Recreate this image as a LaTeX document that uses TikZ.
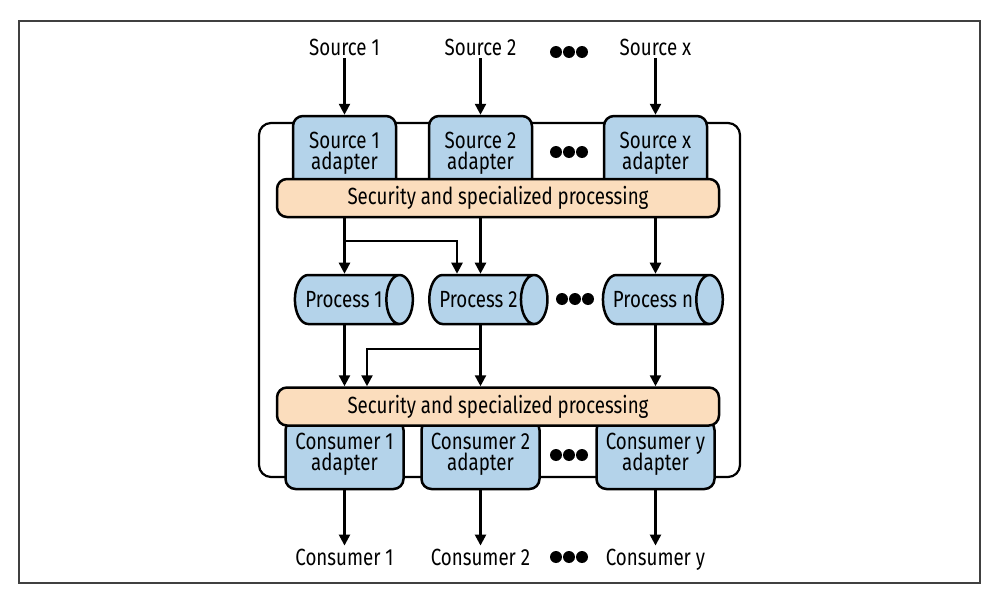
\documentclass[tikz,border=0pt]{standalone}
\usepackage{fontspec}
\setmainfont{Fira Sans}[FakeStretch=0.8]
\usetikzlibrary{shapes.geometric,arrows.meta}
\definecolor{adblue}{HTML}{B4D3EA}
\definecolor{barorange}{HTML}{FBDDBD}
\newcommand\lblfont{\fontsize{11.7}{10.6}\selectfont\lineskiplimit=-10pt\relax}
\newcommand\threedots[2]{\fill (#1-13,#2) circle[radius=6] (#1,#2) circle[radius=6] (#1+13,#2) circle[radius=6];}
\begin{document}
\begin{tikzpicture}[x=0.5pt,y=-0.5pt,
  line width=1.25pt,
  arr/.style={-{Triangle[width=5.5pt,length=5.5pt]}, line width=1.2pt},
  lbl/.style={font=\lblfont, inner sep=1pt, text depth=0pt},
  adapter/.style={draw, fill=adblue, rounded corners=5pt, minimum width=51.5pt, minimum height=37pt, align=center, font=\lblfont, inner sep=0pt},
  cadapter/.style={adapter, minimum width=59pt, minimum height=34.5pt},
  bar/.style={draw, fill=barorange, rounded corners=5pt, minimum width=221pt, minimum height=19pt, font=\lblfont, inner sep=0pt},
  proc/.style={cylinder, draw, fill=adblue, aspect=1.3, minimum height=59pt, minimum width=24.5pt, font=\lblfont, inner sep=1pt}
]
\useasboundingbox (0,0) rectangle (993,594);
\draw[black!75, line width=0.8pt] (19,21) rectangle (980,583);
\draw[rounded corners=6pt, line width=1.1pt] (259,123) rectangle (740,477);

\node[lbl] (s1) at (344.5,47) {Source 1};
\node[lbl] (s2) at (480.5,47) {Source 2};
\node[lbl] (sx) at (655.5,47) {Source x};
\threedots{569}{52}

\node[adapter] (a1) at (344.5,153) {Source 1\\adapter};
\node[adapter] (a2) at (480.5,153) {Source 2\\adapter};
\node[adapter] (ax) at (655.5,153) {Source x\\adapter};
\threedots{569}{152}
\node[bar] (bar1) at (498,198) {Security and specialized processing};

\node[proc] (p1) at (344,299.5) {Process 1};
\node[proc] (p2) at (478.5,299.5) {Process 2};
\node[proc] (pn) at (653,299.5) {Process n};
\threedots{575}{299}

\node[cadapter] (c1) at (344.5,454.5) {Consumer 1\\adapter};
\node[cadapter] (c2) at (480.5,454.5) {Consumer 2\\adapter};
\node[cadapter] (cy) at (655.5,454.5) {Consumer y\\adapter};
\threedots{569}{455}
\node[bar] (bar2) at (498,406.5) {Security and specialized processing};

\node[lbl] (k1) at (344.5,557) {Consumer 1};
\node[lbl] (k2) at (480.5,557) {Consumer 2};
\node[lbl] (ky) at (655.5,557) {Consumer y};
\threedots{569}{557}

\draw[arr] (s1.south) -- (a1.north);
\draw[arr] (s2.south) -- (a2.north);
\draw[arr] (sx.south) -- (ax.north);

\draw[arr] (bar1.south -| a1) -- (p1.north -| a1);
\draw[arr] (bar1.south -| a2) -- (p2.north -| a2);
\draw[arr] (bar1.south -| ax) -- (pn.north -| ax);
\coordinate (j1) at (344.5,241);
\coordinate (t2) at (457,0);
\draw[arr] (j1) -| (p2.north -| t2);

\draw[arr] (p1.south -| a1) -- (bar2.north -| a1);
\draw[arr] (p2.south -| a2) -- (bar2.north -| a2);
\draw[arr] (pn.south -| ax) -- (bar2.north -| ax);
\coordinate (j2) at (480.5,349);
\coordinate (t3) at (367,0);
\draw[arr] (j2) -| (bar2.north -| t3);

\draw[arr] (c1.south) -- (k1.north);
\draw[arr] (c2.south) -- (k2.north);
\draw[arr] (cy.south) -- (ky.north);
\end{tikzpicture}
\end{document}
